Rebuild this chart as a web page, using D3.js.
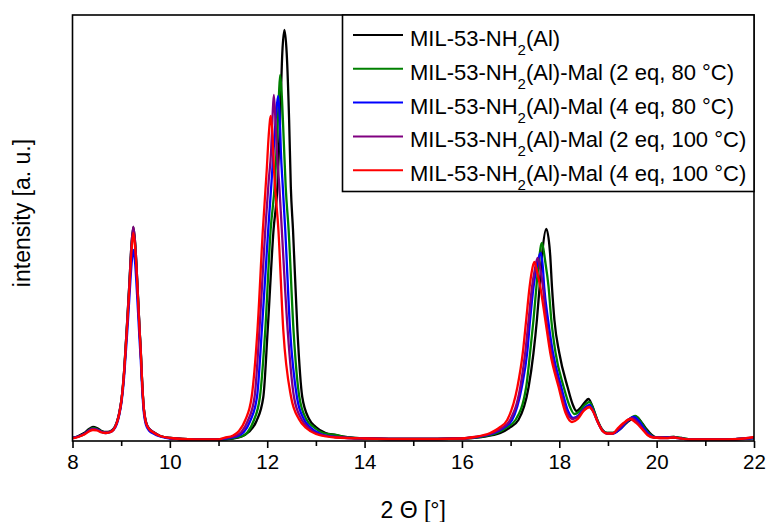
<!DOCTYPE html>
<html>
<head>
<meta charset="utf-8">
<script src="https://cdn.jsdelivr.net/npm/d3@7/dist/d3.min.js"></script>
<style>
  html, body { margin: 0; padding: 0; background: #fff; }
  svg { display: block; font-family: "Liberation Sans", Arial, sans-serif; }
</style>
</head>
<body>
<svg id="chart" width="769" height="522"></svg>
<script>
// PXRD patterns: [2θ (°), intensity (a. u.)]
const pristine = [
  [8.00,3],[8.12,5],[8.24,8],[8.34,12],[8.42,14],[8.50,13],[8.60,10],[8.68,9],[8.76,9.5],[8.84,12],
  [8.91,19],[8.96,28],[9.01,43],[9.06,70],[9.09,93],[9.13,125],[9.17,159],[9.21,195],[9.25,214],
  [9.29,196],[9.32,170],[9.35,140],[9.38,110],[9.40,93],[9.43,60],[9.46,36],[9.51,19],[9.58,12],
  [9.66,9],[9.80,5],[10.0,3],[10.5,1.5],[11.0,1.5],[11.3,2.5],[11.45,4],[11.62,9],[11.78,20],
  [11.92,44],[12.01,111],[12.13,211],[12.21,254],[12.265,321],[12.31,388],[12.354,411],[12.40,388],
  [12.45,321],[12.485,254],[12.53,211],[12.62,111],[12.72,44],[12.86,22],[13.0,14],[13.2,8],
  [13.4,6],[13.6,4],[14.0,2.5],[15.0,2],[16.0,2.5],[16.4,4],[16.79,8],[16.97,13],[17.16,21],
  [17.37,54],[17.47,88],[17.54,121],[17.595,154],[17.65,188],[17.733,212],[17.81,188],[17.85,154],
  [17.90,121],[18.00,88],[18.17,54],[18.28,36],[18.35,30],[18.45,34],[18.53,39],[18.60,42],
  [18.67,36],[18.78,21],[18.88,11],[18.98,8],[19.10,8],[19.25,12],[19.40,19],[19.58,24],[19.70,18],
  [19.79,12],[19.90,6],[20.0,3.5],[20.2,3.5],[20.35,4],[20.5,3],[20.76,1.5],[21.45,1.5],[22.0,3]
];
const mal2eq80 = [
  [8.00,3],[8.12,4.5],[8.24,7],[8.34,11],[8.42,13],[8.50,12],[8.60,9.5],[8.68,8.5],[8.76,9],[8.84,11.5],
  [8.91,18],[8.96,27],[9.01,42],[9.06,68],[9.09,91],[9.13,123],[9.17,157],[9.21,192],[9.25,211],
  [9.29,194],[9.32,168],[9.35,139],[9.38,109],[9.40,92],[9.43,59],[9.46,35],[9.51,18],[9.58,11.5],
  [9.66,8.5],[9.80,5],[10.0,3],[10.5,1.5],[11.0,1.5],[11.3,3],[11.5,5],[11.6,9],[11.72,20],
  [11.85,44],[11.96,111],[12.07,211],[12.16,260],[12.21,310],[12.24,345],[12.265,366],[12.30,345],
  [12.34,300],[12.38,254],[12.44,211],[12.54,111],[12.66,44],[12.80,22],[12.95,14],[13.15,8],
  [13.4,6],[13.6,4],[14.0,2.5],[15.0,2],[16.0,2.5],[16.35,4],[16.72,8],[16.90,13],[17.10,21],
  [17.32,54],[17.40,88],[17.47,121],[17.53,154],[17.58,180],[17.644,198],[17.71,180],[17.78,154],
  [17.836,121],[17.924,88],[18.09,54],[18.22,34],[18.31,27],[18.40,29],[18.52,36],[18.62,39],
  [18.69,33],[18.79,20],[18.89,11],[18.98,8],[19.10,8],[19.25,12.5],[19.40,20],[19.56,25],[19.68,19],
  [19.77,12],[19.88,6],[19.98,3.5],[20.2,3.5],[20.35,4],[20.5,3],[20.76,1.5],[21.45,1.5],[22.0,3]
];
const mal4eq80 = [
  [8.00,3],[8.12,4.5],[8.24,7],[8.34,10.5],[8.42,12],[8.50,11.5],[8.60,9],[8.68,8],[8.76,8.5],[8.84,11],
  [8.91,17],[8.96,26],[9.01,40],[9.06,64],[9.09,85],[9.13,113],[9.17,145],[9.21,175],[9.25,191],
  [9.29,176],[9.32,152],[9.35,126],[9.38,99],[9.40,83],[9.43,53],[9.46,31],[9.51,16],[9.58,10],
  [9.66,7.5],[9.80,4.5],[10.0,2.5],[10.5,1.5],[11.0,1.5],[11.2,3],[11.4,5],[11.52,9],[11.65,20],
  [11.79,44],[11.89,111],[12.02,211],[12.09,260],[12.13,290],[12.18,325],[12.224,345],[12.26,320],
  [12.28,290],[12.32,254],[12.37,211],[12.47,111],[12.61,44],[12.75,22],[12.9,13],[13.1,7],
  [13.4,4],[14.0,2.5],[15.0,2],[16.0,2.5],[16.3,4],[16.66,8],[16.85,13],[17.03,21],[17.23,54],
  [17.34,88],[17.40,121],[17.47,154],[17.54,175],[17.616,188],[17.66,175],[17.69,154],[17.77,121],
  [17.87,88],[18.04,54],[18.18,30],[18.29,23],[18.40,26],[18.52,33],[18.62,36],[18.69,31],[18.79,19],
  [18.89,10.5],[18.98,7.5],[19.10,7.5],[19.25,12],[19.38,19],[19.53,24],[19.65,19],[19.75,12],
  [19.86,6],[19.97,3.5],[20.2,3.5],[20.35,3.5],[20.5,2.5],[20.76,1.5],[21.45,1.5],[22.0,3]
];
const mal2eq100 = [
  [8.00,3],[8.12,4.5],[8.24,7],[8.34,10.5],[8.42,12],[8.50,11.5],[8.60,9],[8.68,8.5],[8.76,9],[8.84,11.5],
  [8.91,18.5],[8.96,28],[9.01,43],[9.06,70],[9.09,93],[9.13,125],[9.17,159],[9.21,195],[9.25,214],
  [9.29,196],[9.32,170],[9.35,140],[9.38,110],[9.40,93],[9.43,60],[9.46,36],[9.51,19],[9.58,12],
  [9.66,9],[9.80,5],[10.0,3],[10.5,1.5],[11.0,1.5],[11.15,3],[11.35,5],[11.47,9],[11.60,20],
  [11.74,44],[11.84,111],[11.96,211],[12.03,260],[12.08,290],[12.11,325],[12.136,346],[12.17,320],
  [12.20,288],[12.25,254],[12.30,211],[12.42,111],[12.55,44],[12.70,22],[12.85,13],[13.05,7],
  [13.4,4],[14.0,2.5],[15.0,2],[16.0,2.5],[16.28,4],[16.63,8],[16.82,13],[16.99,21],[17.20,54],
  [17.30,88],[17.37,121],[17.44,154],[17.50,172],[17.554,183],[17.61,172],[17.665,154],[17.733,121],
  [17.836,88],[18.006,54],[18.15,29],[18.28,22],[18.40,25],[18.52,32],[18.62,34],[18.69,30],[18.79,19],
  [18.89,10],[18.98,7.5],[19.10,7.5],[19.22,12],[19.35,18.5],[19.49,23],[19.61,18.5],[19.72,12],
  [19.83,6],[19.95,3.5],[20.2,3],[20.35,3.5],[20.5,2.5],[20.76,1.5],[21.45,1.5],[22.0,3.5]
];
const mal4eq100 = [
  [8.00,2.5],[8.12,4],[8.24,6.5],[8.34,9.5],[8.42,11],[8.50,10.5],[8.60,8.5],[8.68,8],[8.76,8.5],[8.84,11],
  [8.91,18],[8.96,27],[9.01,42],[9.06,68],[9.09,90],[9.13,121],[9.17,154],[9.21,189],[9.25,208],
  [9.29,191],[9.32,166],[9.35,137],[9.38,108],[9.40,91],[9.43,59],[9.46,35],[9.51,18],[9.58,11.5],
  [9.66,8.5],[9.80,5],[10.0,3],[10.5,1.5],[11.0,1.5],[11.1,3],[11.3,5.5],[11.42,10],[11.55,21],
  [11.68,44],[11.80,111],[11.91,211],[11.99,271],[12.03,305],[12.074,325],[12.11,305],[12.14,271],
  [12.23,211],[12.33,111],[12.49,44],[12.65,22],[12.80,13],[13.0,7],[13.4,3.5],[14.0,2.5],[15.0,2],
  [16.0,2.5],[16.25,4],[16.58,8],[16.76,13],[16.93,21],[17.14,54],[17.25,88],[17.32,121],[17.39,154],
  [17.43,168],[17.486,179],[17.55,168],[17.61,154],[17.713,121],[17.815,88],[17.986,54],[18.13,28],
  [18.26,19],[18.38,22],[18.50,30],[18.62,34],[18.69,30],[18.79,19],[18.89,10],[18.98,7.5],[19.10,7.5],
  [19.19,12],[19.32,18],[19.46,22],[19.58,18],[19.70,12],[19.81,6],[19.93,3.5],[20.2,3],[20.35,3.5],
  [20.5,2.5],[20.76,1.5],[21.45,1.5],[21.8,2.5],[22.0,4]
];

const seriesData = [pristine, mal2eq80, mal4eq80, mal2eq100, mal4eq100];
// legend labels: [text before subscript, subscript, text after]
const seriesLabels = [
  ["MIL-53-NH", "2", "(Al)"],
  ["MIL-53-NH", "2", "(Al)-Mal (2 eq, 80 °C)"],
  ["MIL-53-NH", "2", "(Al)-Mal (4 eq, 80 °C)"],
  ["MIL-53-NH", "2", "(Al)-Mal (2 eq, 100 °C)"],
  ["MIL-53-NH", "2", "(Al)-Mal (4 eq, 100 °C)"]
];
const seriesColors = ["#000000", "#008000", "#0000ff", "#800080", "#ff0000"];
const xDomain = [8, 22];
const yDomain = [0, 426];
const xTickValues = d3.range(8, 23, 1);
const xLabel = "2 Θ [°]";
const yLabel = "intensity [a. u.]";

const svg = d3.select("#chart");
const box = { left: 72.5, right: 754, top: 15, bottom: 441 };

const x = d3.scaleLinear().domain(xDomain).range([box.left, box.right]);
const y = d3.scaleLinear().domain(yDomain).range([box.bottom, box.top]);

const line = d3.line()
  .x(d => x(d[0]))
  .y(d => y(d[1]))
  .curve(d3.curveMonotoneX);

svg.append("clipPath").attr("id", "clip")
  .append("rect").attr("x", box.left).attr("y", box.top)
  .attr("width", box.right - box.left).attr("height", box.bottom - box.top);

svg.append("g").attr("clip-path", "url(#clip)")
  .selectAll("path")
  .data(seriesData)
  .join("path")
  .attr("d", line)
  .attr("fill", "none")
  .attr("stroke", (d, i) => seriesColors[i])
  .attr("stroke-width", 2.3)
  .attr("stroke-linejoin", "round");

// frame
svg.append("rect")
  .attr("x", box.left).attr("y", box.top)
  .attr("width", box.right - box.left).attr("height", box.bottom - box.top)
  .attr("fill", "none").attr("stroke", "#000").attr("stroke-width", 1.6);

// bottom axis: ticks every degree, labels on even values
const xAxis = d3.axisBottom(x)
  .tickValues(xTickValues)
  .tickSize(7)
  .tickPadding(6)
  .tickFormat(d => d % 2 === 0 ? d3.format("d")(d) : "");
const gx = svg.append("g").attr("transform", `translate(0,${box.bottom})`).call(xAxis);
gx.select(".domain").remove();
gx.selectAll(".tick line").attr("stroke", "#000").attr("stroke-width", 1.6)
  .attr("y2", d => d % 2 === 0 ? 7 : 5);
gx.selectAll(".tick text")
  .attr("font-size", 20.5)
  .attr("font-family", "Liberation Sans, Arial, sans-serif")
  .attr("fill", "#000");

svg.append("text")
  .attr("x", (box.left + box.right) / 2).attr("y", 518)
  .attr("text-anchor", "middle")
  .attr("font-size", 23)
  .attr("fill", "#000")
  .text(xLabel);

svg.append("text")
  .attr("transform", "translate(30,213) rotate(-90)")
  .attr("text-anchor", "middle")
  .attr("font-size", 23)
  .attr("fill", "#000")
  .text(yLabel);

// legend
const lg = svg.append("g");
lg.append("rect")
  .attr("x", 342.5).attr("y", box.top)
  .attr("width", box.right - 342.5).attr("height", 191.5 - box.top)
  .attr("fill", "#fff").attr("stroke", "#000").attr("stroke-width", 1.6);

const rows = lg.selectAll("g.row")
  .data(seriesLabels)
  .join("g")
  .attr("class", "row")
  .attr("transform", (d, i) => `translate(0,${35 + i * 33.8})`);

rows.append("line")
  .attr("x1", 353).attr("x2", 403)
  .attr("stroke", (d, i) => seriesColors[i])
  .attr("stroke-width", 2);

const labels = rows.append("text")
  .attr("x", 410).attr("y", 11)
  .attr("font-size", 22)
  .attr("fill", "#000");
labels.append("tspan").text(d => d[0]);
labels.append("tspan").attr("dy", 9).attr("font-size", 15).text(d => d[1]);
labels.append("tspan").attr("dy", -9).text(d => d[2]);
</script>
</body>
</html>
